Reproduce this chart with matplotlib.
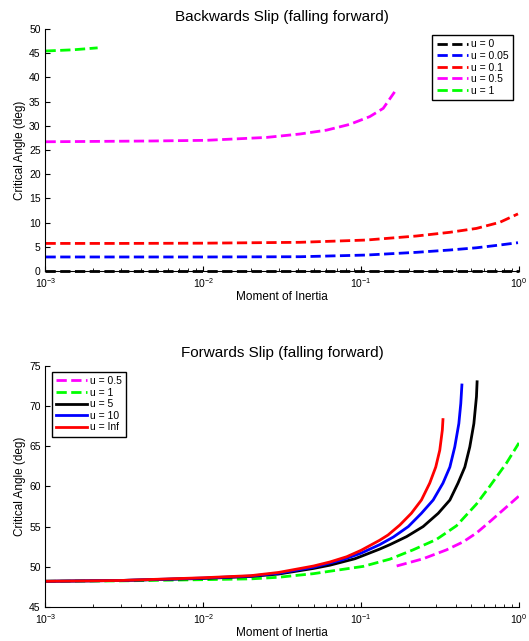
import matplotlib
matplotlib.use('Agg')
from matplotlib import pyplot as plt

plt.rcParams['font.family'] = 'Liberation Sans'

# --- Backwards slip data (moment of inertia vs critical angle) ---
x_u0 = [1e-3, 1e-2, 1e-1, 1.0]
y_u0 = [0, 0, 0, 0]
x_u005 = [1e-3, 3e-3, 1e-2, 0.041, 0.108, 0.224, 0.365, 0.538, 0.756, 0.986]
y_u005 = [2.9, 2.9, 2.9, 2.95, 3.3, 3.86, 4.34, 4.8, 5.37, 5.85]
x_u01 = [1e-3, 3e-3, 1e-2, 0.041, 0.108, 0.224, 0.365, 0.538, 0.756, 0.986]
y_u01 = [5.7, 5.7, 5.75, 5.93, 6.4, 7.23, 8.0, 8.8, 10.06, 11.8]
x_u05 = [1e-3, 4.7e-3, 0.0105, 0.0252, 0.0409, 0.0604, 0.0848, 0.1135, 0.138, 0.163]
y_u05 = [26.7, 26.86, 27.0, 27.6, 28.3, 29.1, 30.3, 31.9, 33.6, 37.0]
x_u1 = [1e-3, 1.5e-3, 2.14e-3]
y_u1 = [45.45, 45.7, 46.1]

# --- Forwards slip data ---
fx_u05 = [0.168, 0.247, 0.347, 0.443, 0.538, 0.653, 1.0]
fy_u05 = [50.1, 51.0, 52.1, 53.1, 54.2, 55.6, 58.8]
fx_u1 = [1e-3, 3e-3, 1e-2, 2e-2, 3e-2, 5e-2, 0.0634, 0.103, 0.152, 0.213, 0.30,
         0.402, 0.538, 0.653, 0.834, 1.0]
fy_u1 = [48.2, 48.25, 48.4, 48.5, 48.7, 49.15, 49.45, 50.05, 50.95, 52.1, 53.4,
         55.1, 57.8, 60.0, 62.9, 65.4]
fx_u5 = [1e-3, 3e-3, 1e-2, 2e-2, 3e-2, 5e-2, 0.0634, 0.0912, 0.1, 0.131, 0.152,
         0.194, 0.247, 0.308, 0.365, 0.411, 0.454, 0.488, 0.518, 0.538, 0.543]
fy_u5 = [48.2, 48.3, 48.55, 48.8, 49.1, 49.8, 50.2, 51.0, 51.3, 52.2, 52.75,
         53.75, 55.0, 56.65, 58.3, 60.4, 62.4, 64.9, 67.8, 71.15, 73.0]
fx_u10 = [1e-3, 3e-3, 1e-2, 2e-2, 3e-2, 5e-2, 0.0769, 0.1, 0.131, 0.160, 0.199,
          0.241, 0.286, 0.330, 0.365, 0.392, 0.416, 0.428, 0.435]
fy_u10 = [48.2, 48.3, 48.6, 48.85, 49.2, 49.95, 50.9, 51.7, 52.75, 53.7, 55.0,
          56.65, 58.3, 60.4, 62.4, 64.9, 67.8, 70.3, 72.6]
fx_uinf = [1e-3, 3e-3, 1e-2, 2e-2, 3e-2, 5e-2, 0.0634, 0.081, 0.1, 0.131, 0.148,
           0.176, 0.208, 0.241, 0.272, 0.297, 0.315, 0.327, 0.330]
fy_uinf = [48.2, 48.3, 48.64, 48.9, 49.3, 50.1, 50.6, 51.25, 52.05, 53.3, 53.95,
           55.2, 56.65, 58.3, 60.4, 62.4, 64.5, 67.0, 68.3]

fig = plt.figure(figsize=(5.29, 6.41), dpi=100)
ax1 = fig.add_axes([0.086, 0.5772, 0.895, 0.3776])
ax2 = fig.add_axes([0.086, 0.0530, 0.895, 0.3765])

ax1.plot(x_u0, y_u0, 'k--', lw=2, label='u = 0', clip_on=False)
ax1.plot(x_u005, y_u005, 'b--', lw=2, label='u = 0.05')
ax1.plot(x_u01, y_u01, 'r--', lw=2, label='u = 0.1')
ax1.plot(x_u05, y_u05, '--', color='magenta', lw=2, label='u = 0.5')
ax1.plot(x_u1, y_u1, '--', color='#00ff00', lw=2, label='u = 1')
ax1.set_ylim(0, 50)
ax1.set_yticks(range(0, 51, 5))
ax1.set_title('Backwards Slip (falling forward)', fontsize=11)

ax2.plot(fx_u05, fy_u05, '--', color='magenta', lw=2, label='u = 0.5')
ax2.plot(fx_u1, fy_u1, '--', color='#00ff00', lw=2, label='u = 1')
ax2.plot(fx_u5, fy_u5, 'k-', lw=2, label='u = 5')
ax2.plot(fx_u10, fy_u10, 'b-', lw=2, label='u = 10')
ax2.plot(fx_uinf, fy_uinf, 'r-', lw=2, label='u = Inf')
ax2.set_ylim(45, 75)
ax2.set_yticks(range(45, 76, 5))
ax2.set_title('Forwards Slip (falling forward)', fontsize=11)

for ax, loc in [(ax1, 'upper right'), (ax2, 'upper left')]:
    ax.set_xscale('log')
    ax.set_xlim(1e-3, 1)
    ax.set_xlabel('Moment of Inertia', fontsize=8.5, labelpad=1)
    ax.set_ylabel('Critical Angle (deg)', fontsize=8.5, labelpad=2)
    ax.spines['top'].set_visible(False)
    ax.spines['right'].set_visible(False)
    ax.tick_params(which='both', direction='in', labelsize=7.5)
    leg = ax.legend(loc=loc, fontsize=7.5, handlelength=3, handletextpad=0.3,
                    labelspacing=0.15, fancybox=False, framealpha=1,
                    borderaxespad=0.6)
    leg.get_frame().set_edgecolor('black')
    leg.get_frame().set_linewidth(1)

fig.savefig('out.png', dpi=100)
